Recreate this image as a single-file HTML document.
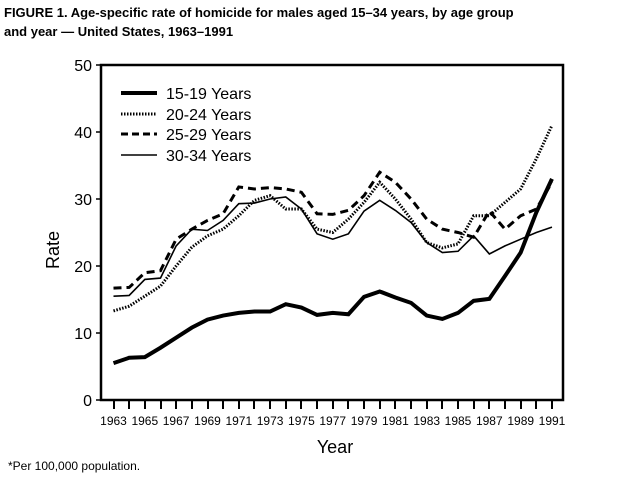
<!DOCTYPE html>
<html><head><style>body{margin:0;background:#fff}svg{display:block}</style></head><body>
<svg width="634" height="482" xmlns="http://www.w3.org/2000/svg" font-family="Liberation Sans, Arial, sans-serif">
<text x="4" y="17" font-size="13" font-weight="bold">FIGURE 1. Age-specific rate of homicide for males aged 15–34 years, by age group</text>
<text x="4" y="36" font-size="13" font-weight="bold">and year — United States, 1963–1991</text>
<g fill="#000">
<rect x="113" y="401" width="2" height="8"/><rect x="128" y="401" width="2" height="8"/><rect x="144" y="401" width="2" height="8"/><rect x="160" y="401" width="2" height="8"/><rect x="175" y="401" width="2" height="8"/><rect x="191" y="401" width="2" height="8"/><rect x="207" y="401" width="2" height="8"/><rect x="222" y="401" width="2" height="8"/><rect x="238" y="401" width="2" height="8"/><rect x="253" y="401" width="2" height="8"/><rect x="269" y="401" width="2" height="8"/><rect x="285" y="401" width="2" height="8"/><rect x="300" y="401" width="2" height="8"/><rect x="316" y="401" width="2" height="8"/><rect x="332" y="401" width="2" height="8"/><rect x="347" y="401" width="2" height="8"/><rect x="363" y="401" width="2" height="8"/><rect x="379" y="401" width="2" height="8"/><rect x="394" y="401" width="2" height="8"/><rect x="410" y="401" width="2" height="8"/><rect x="426" y="401" width="2" height="8"/><rect x="441" y="401" width="2" height="8"/><rect x="457" y="401" width="2" height="8"/><rect x="473" y="401" width="2" height="8"/><rect x="488" y="401" width="2" height="8"/><rect x="504" y="401" width="2" height="8"/><rect x="520" y="401" width="2" height="8"/><rect x="535" y="401" width="2" height="8"/><rect x="551" y="401" width="2" height="8"/>
</g>
<rect x="101" y="65" width="462" height="335" fill="none" stroke="#000" stroke-width="2.5"/>
<g stroke="#000" stroke-width="1.5">
<line x1="96" y1="65" x2="101" y2="65"/><line x1="96" y1="132" x2="101" y2="132"/><line x1="96" y1="199" x2="101" y2="199"/><line x1="96" y1="266" x2="101" y2="266"/><line x1="96" y1="333" x2="101" y2="333"/><line x1="96" y1="400" x2="101" y2="400"/>
</g>
<g font-size="16" text-anchor="end">
<text x="92" y="71">50</text><text x="92" y="138">40</text><text x="92" y="205">30</text><text x="92" y="272">20</text><text x="92" y="339">10</text><text x="92" y="406">0</text>
</g>
<g font-size="12" text-anchor="middle">
<text x="113.5" y="425">1963</text><text x="144.8" y="425">1965</text><text x="176.1" y="425">1967</text><text x="207.5" y="425">1969</text><text x="238.8" y="425">1971</text><text x="270.1" y="425">1973</text><text x="301.4" y="425">1975</text><text x="332.7" y="425">1977</text><text x="364.1" y="425">1979</text><text x="395.4" y="425">1981</text><text x="426.7" y="425">1983</text><text x="458" y="425">1985</text><text x="489.3" y="425">1987</text><text x="520.7" y="425">1989</text><text x="552" y="425">1991</text>
</g>
<text x="59" y="250" font-size="18" text-anchor="middle" transform="rotate(-90 59 250)">Rate</text>
<text x="335" y="453" font-size="18" text-anchor="middle">Year</text>
<text x="8" y="470" font-size="12">*Per 100,000 population.</text>
<g fill="none" stroke="#000">
<line x1="121" y1="93" x2="157" y2="93" stroke-width="4"/>
<line x1="121" y1="114" x2="157" y2="114" stroke-width="3" stroke-dasharray="1.5 1.5"/>
<line x1="121" y1="134" x2="157" y2="134" stroke-width="3" stroke-dasharray="7 4"/>
<line x1="121" y1="155" x2="157" y2="155" stroke-width="1.6"/>
<polyline id="s1" stroke-width="4"/>
<polyline id="s2" stroke-width="3" stroke-dasharray="1.5 1.5"/>
<polyline id="s3" stroke-width="3" stroke-dasharray="8 5"/>
<polyline id="s4" stroke-width="1.6"/>
</g>
<g font-size="16"><text x="166" y="99">15-19 Years</text><text x="166" y="120">20-24 Years</text><text x="166" y="140">25-29 Years</text><text x="166" y="161">30-34 Years</text></g>
<script>
var X=y=>113.5+(y-1963)*15.66, Y=v=>400-v*6.7;
var d={
s1:[5.5,6.3,6.4,7.8,9.3,10.8,12,12.6,13,13.2,13.2,14.3,13.8,12.7,13,12.8,15.4,16.2,15.3,14.5,12.6,12.1,13,14.8,15.1,18.5,22,28,33],
s2:[13.3,14,15.5,17,20,22.8,24.5,25.5,27.5,29.8,30.5,28.5,30,28.5,25.5,25,27,29.5,32.5,30,27,23.5,22.7,23.3,27.5,27.5,29.5,31.5,36,41],
s3:[16.7,16.8,19,19.3,24,25.5,26.8,27.8,31.8,31.5,31.7,31.5,31,27.8,27.7,28.3,30.5,34,32.5,30,27,25.5,25,24.3,28.2,25.5,27.5,28.5,31.8,32.5],
s4:[15.5,15.6,18,18.2,23,25.5,25.3,26.8,29.3,29.4,30,30.3,28.5,24.8,24,24.8,28.2,29.8,28.3,26.5,23.5,22,22.2,24.5,21.8,23,24,25,25.8]};
d.s2.splice(12,1);d.s3.splice(28,1);
for(var k in d){document.getElementById(k).setAttribute('points',d[k].map((v,i)=>X(1963+i)+','+Y(v)).join(' '));}
</script>
</svg>
</body></html>
